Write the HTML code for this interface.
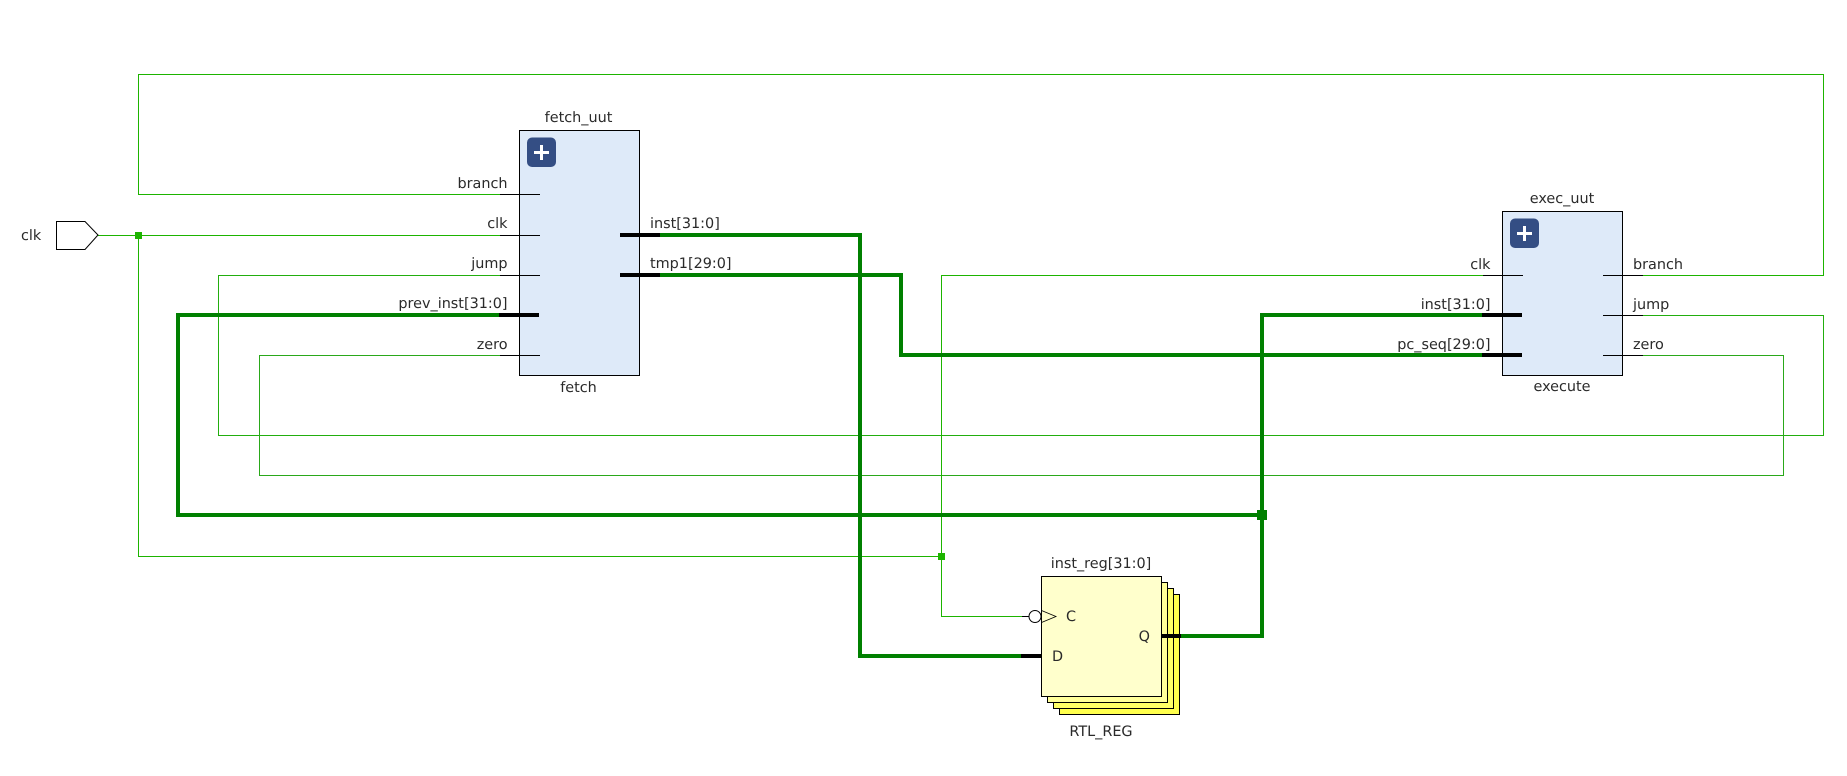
<!DOCTYPE html>
<html><head><meta charset="utf-8"><style>
html,body{margin:0;padding:0;background:#fff;width:1847px;height:776px;overflow:hidden}
svg{display:block}
text{font-family:"DejaVu Sans","Liberation Sans",sans-serif;font-size:14.4px;fill:#2a2a2a;text-rendering:geometricPrecision}
.t{fill:none;stroke:#1db400;stroke-width:1}
.u{fill:none;stroke:#22ae0e;stroke-width:1}
.v{fill:none;stroke:#2aa81a;stroke-width:1}
.b{fill:none;stroke:#008000;stroke-width:4}
.k{fill:none;stroke:#000;stroke-width:1}
.K{fill:none;stroke:#000;stroke-width:4}
.e{text-anchor:end}.m{text-anchor:middle}
</style></head><body>
<svg width="1847" height="776" viewBox="0 0 1847 776" xmlns="http://www.w3.org/2000/svg">
<!-- thin nets -->
<path class="t" d="M1643 275.5H1823.5V74.5H138.5V194.5H500"/>
<path class="t" d="M98 235.5H500"/>
<path class="u" d="M1643 315.5H1823.5V435.5H218.5V275.5H500"/>
<path class="v" d="M1643 355.5H1783.5V475.5H259.5V355.5H500"/>
<path class="t" d="M138.5 235.5V556.5H941.5"/>
<path class="t" d="M1483 275.5H941.5V616.5H1022"/>
<rect x="135" y="232" width="7" height="7" fill="#1db400"/>
<rect x="938" y="553" width="7" height="7" fill="#1db400"/>
<!-- input port -->
<path d="M56.500 221.500H85L98 235L85 249.500H56.500Z" fill="#fff" stroke="#000"/>
<text x="21" y="240">clk</text>
<!-- blocks -->
<rect x="519.500" y="130.500" width="120" height="245" fill="#deeaf9" stroke="#000"/>
<rect x="1502.500" y="211.500" width="120" height="164" fill="#deeaf9" stroke="#000"/>
<!-- thick nets -->
<path class="b" d="M660 235H860V656H1021"/>
<path class="b" d="M660 275H901V355H1482"/>
<path class="b" d="M1181 636H1262V315H1482"/>
<path class="b" d="M1262 515H178V315H499"/>
<rect x="1257" y="510" width="10" height="10" fill="#008000"/>
<!-- icons -->
<rect x="527" y="137.500" width="29" height="29.500" rx="5" fill="#344e84"/>
<path d="M541.500 145V160M534 152.500H549" stroke="#fff" stroke-width="3" fill="none"/>
<rect x="1510" y="218.500" width="29" height="29.500" rx="5" fill="#344e84"/>
<path d="M1524.500 226V241M1517 233.500H1532" stroke="#fff" stroke-width="3" fill="none"/>
<!-- pin stubs -->
<path class="k" d="M500 194.500H540M500 235.500H540M500 275.500H540M500 355.500H540"/>
<path class="K" d="M499 315H539M620 235H660M620 275H660"/>
<path class="k" d="M1483 275.500H1523M1603 275.500H1643M1603 315.500H1643M1603 355.500H1643"/>
<path class="K" d="M1482 315H1522M1482 355H1522"/>
<!-- labels fetch -->
<text class="m" x="578.500" y="122">fetch_uut</text>
<text class="m" x="578.500" y="392">fetch</text>
<text class="e" x="507.500" y="188">branch</text>
<text class="e" x="507.500" y="228">clk</text>
<text class="e" x="507.500" y="268">jump</text>
<text class="e" x="507.500" y="308">prev_inst[31:0]</text>
<text class="e" x="507.500" y="349">zero</text>
<text x="650" y="228">inst[31:0]</text>
<text x="650" y="268">tmp1[29:0]</text>
<!-- labels exec -->
<text class="m" x="1562" y="203">exec_uut</text>
<text class="m" x="1562" y="391">execute</text>
<text class="e" x="1490.500" y="269">clk</text>
<text class="e" x="1490.500" y="309">inst[31:0]</text>
<text class="e" x="1490.500" y="349">pc_seq[29:0]</text>
<text x="1633" y="269">branch</text>
<text x="1633" y="309">jump</text>
<text x="1633" y="349">zero</text>
<!-- register -->
<rect x="1059.500" y="594.500" width="120" height="120" fill="#ffff4d" stroke="#000"/>
<rect x="1053.500" y="588.500" width="120" height="120" fill="#ffff66" stroke="#000"/>
<rect x="1047.500" y="582.500" width="120" height="120" fill="#ffff99" stroke="#000"/>
<rect x="1041.500" y="576.500" width="120" height="120" fill="#ffffcc" stroke="#000"/>
<path class="k" d="M1022 616.500H1030"/>
<path d="M1041.500 610.500L1056 616.500L1041.500 622.500" fill="none" stroke="#000" stroke-width="0.800"/>
<circle cx="1035" cy="616.500" r="6" fill="#fff" stroke="#000"/>
<path class="K" d="M1021 656H1041M1161 636H1181"/>
<text x="1066" y="621">C</text>
<text x="1052" y="661">D</text>
<text class="e" x="1150" y="641">Q</text>
<text class="m" x="1101" y="568">inst_reg[31:0]</text>
<text class="m" x="1101" y="736">RTL_REG</text>
</svg>
</body></html>
